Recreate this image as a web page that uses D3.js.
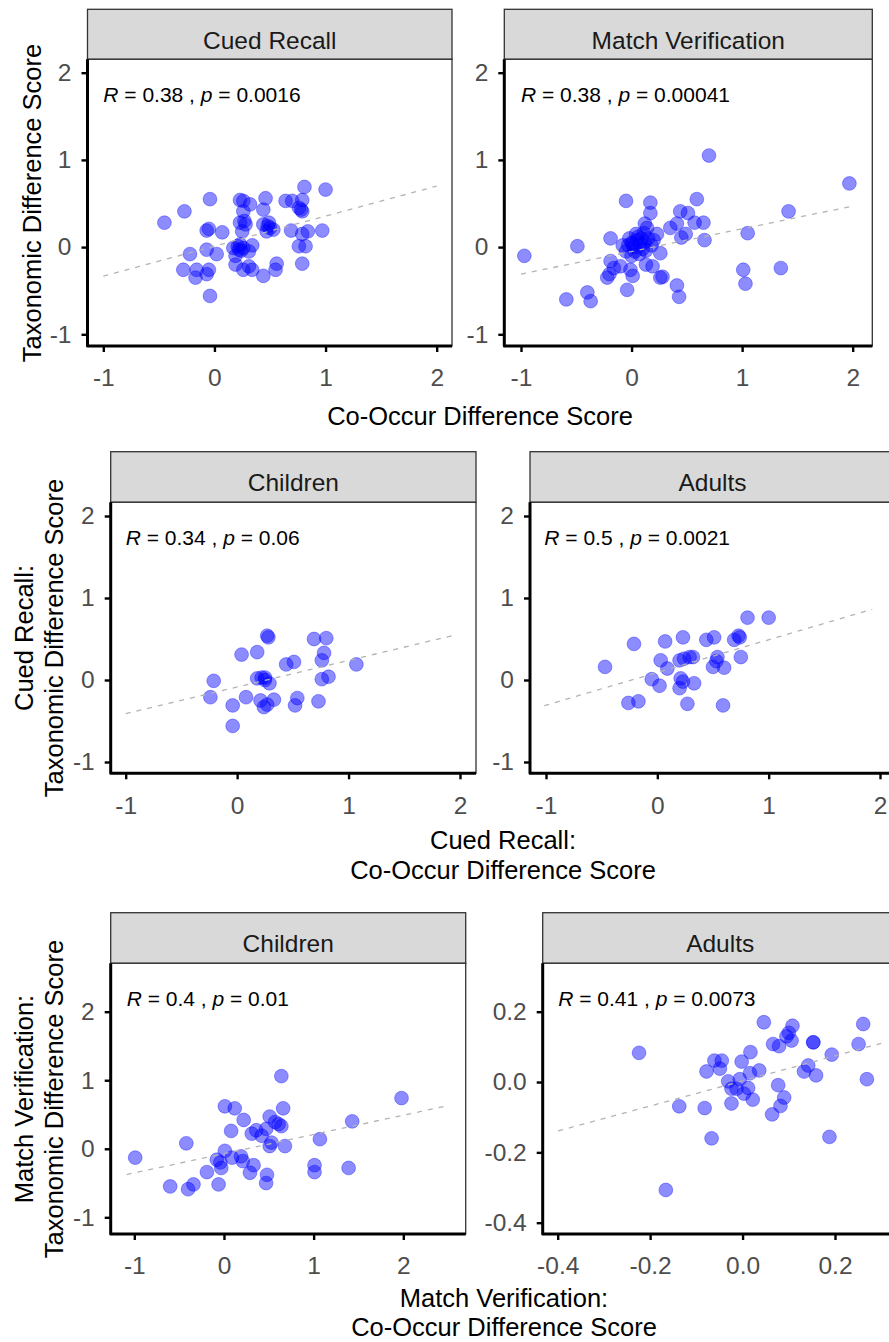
<!DOCTYPE html>
<html>
<head>
<meta charset="utf-8">
<script src="https://cdn.jsdelivr.net/npm/d3@7"></script>
<style>
  body { margin: 0; background: #fff; }
  svg { display: block; font-family: "Liberation Sans", Arial, sans-serif; }
</style>
</head>
<body>
<div id="chart"></div>
<script>
// ---- data ----
const stripLabels = ["Cued Recall", "Match Verification", "Children", "Adults", "Children", "Adults"];
const rValues = ["0.38", "0.38", "0.34", "0.5", "0.4", "0.41"];
const pValues = ["0.0016", "0.00041", "0.06", "0.0021", "0.01", "0.0073"];

const mainTicks = [-1, 0, 1, 2];
const mvAdultTicks = [-0.4, -0.2, 0.0, 0.2];

// [x, y] pairs: co-occur difference, taxonomic difference
const cuedRecall = [[-0.45,0.28],[-0.27,0.41],[-0.04,0.55],[-0.07,0.19],[-0.05,0.21],[0.07,0.17],[-0.22,-0.08],[-0.07,-0.03],
  [0.02,-0.08],[-0.28,-0.26],[-0.16,-0.26],[-0.17,-0.35],[-0.05,-0.26],[-0.07,-0.31],[-0.04,-0.56],[0.23,0.54],[0.26,0.53],
  [0.32,0.49],[0.26,0.41],[0.46,0.56],[0.44,0.43],[0.23,0.28],[0.28,0.26],[0.25,0.18],[0.44,0.26],[0.49,0.28],[0.47,0.18],
  [0.53,0.20],[0.50,0.22],[0.64,0.53],[0.70,0.53],[0.79,0.54],[0.81,0.69],[1.00,0.66],[0.76,0.45],[0.79,0.41],[0.69,0.19],
  [0.79,0.15],[0.84,0.18],[0.97,0.19],[0.76,0.01],[0.82,0.01],[0.79,-0.19],[0.17,-0.01],[0.22,-0.03],[0.26,-0.01],[0.23,0.03],
  [0.34,0.02],[0.19,-0.10],[0.19,-0.20],[0.26,-0.26],[0.31,-0.22],[0.34,-0.26],[0.44,-0.33],[0.56,-0.19],[0.55,-0.26],
  [0.31,-0.05],[0.21,0.01],[0.27,0.30],[0.48,0.24],[0.78,0.43],[0.24,-0.04]];

const matchVerification = [[-0.97,-0.10],[-0.49,0.01],[-0.59,-0.60],[-0.40,-0.52],[-0.37,-0.62],[-0.05,0.53],[-0.19,0.10],
  [-0.04,-0.49],[0.17,0.51],[0.17,0.39],[0.12,0.27],[0.14,0.22],[-0.19,-0.16],[-0.16,-0.24],[-0.10,-0.22],[-0.22,-0.35],
  [-0.20,-0.31],[-0.01,-0.26],[0.01,-0.33],[0.13,-0.20],[0.19,-0.22],[0.26,-0.35],[0.28,-0.34],[0.26,-0.07],[0.23,0.15],
  [0.35,0.22],[0.41,0.27],[0.44,0.41],[0.51,0.39],[0.59,0.55],[0.57,0.28],[0.65,0.28],[0.70,1.05],[0.45,0.11],[0.49,0.15],
  [0.66,0.08],[0.41,-0.44],[0.43,-0.57],[1.05,0.16],[1.01,-0.26],[1.03,-0.42],[1.35,-0.24],[1.42,0.41],[1.97,0.73],
  [0.00,0.05],[0.02,0.00],[0.05,0.08],[-0.03,0.02],[0.08,0.03],[0.10,-0.02],[0.03,-0.05],[0.06,0.12],[-0.05,-0.05],
  [0.12,0.06],[0.15,0.10],[0.00,-0.10],[0.04,0.15],[0.09,0.10],[-0.02,0.10],[0.18,0.02],[0.20,0.08],[0.07,-0.08],
  [0.13,-0.04],[0.01,0.04],[-0.08,0.02],[0.11,0.16]];

const crChildren = [[-0.21,-0.01],[-0.24,-0.21],[-0.04,-0.31],[-0.04,-0.56],[0.04,0.31],[0.08,-0.21],[0.18,0.34],[0.27,0.54],
  [0.28,0.52],[0.18,0.02],[0.22,0.03],[0.25,0.00],[0.29,-0.04],[0.21,-0.25],[0.24,-0.33],[0.27,-0.30],[0.33,-0.24],
  [0.44,0.19],[0.51,0.22],[0.54,-0.22],[0.52,-0.31],[0.69,0.50],[0.80,0.51],[0.78,0.33],[0.76,0.24],[0.76,0.01],
  [0.82,0.04],[0.73,-0.26],[1.07,0.19],[0.25,0.03]];

const crAdults = [[-0.47,0.16],[-0.21,0.44],[-0.26,-0.28],[-0.17,-0.26],[-0.05,0.01],[0.02,-0.07],[0.07,0.47],[0.03,0.24],
  [0.09,0.14],[0.23,0.52],[0.20,0.24],[0.24,0.26],[0.29,0.28],[0.32,0.28],[0.21,0.02],[0.23,-0.02],[0.20,-0.10],
  [0.33,-0.04],[0.27,-0.29],[0.44,0.49],[0.51,0.52],[0.54,0.28],[0.53,0.23],[0.50,0.16],[0.60,0.15],[0.59,-0.31],
  [0.69,0.49],[0.73,0.54],[0.74,0.52],[0.75,0.28],[0.81,0.76],[1.00,0.76]];

const mvChildren = [[-0.99,-0.13],[-0.42,0.08],[-0.60,-0.55],[-0.40,-0.59],[-0.34,-0.52],[-0.19,-0.34],[-0.06,-0.52],
  [0.01,0.62],[0.12,0.59],[0.22,0.42],[0.08,0.26],[0.01,-0.03],[-0.08,-0.16],[-0.04,-0.20],[-0.03,-0.28],[0.09,-0.13],
  [0.19,-0.11],[0.21,-0.18],[0.33,-0.24],[0.29,-0.35],[0.31,0.22],[0.36,0.27],[0.42,0.19],[0.47,0.29],[0.51,0.47],
  [0.48,-0.38],[0.47,-0.50],[0.53,0.09],[0.51,0.04],[0.57,0.39],[0.61,0.36],[0.64,0.33],[0.64,1.06],[0.66,0.59],
  [0.68,0.04],[1.01,-0.24],[1.01,-0.34],[1.07,0.14],[1.39,-0.28],[1.43,0.40],[1.98,0.74]];

const mvAdults = [[-0.224,0.083],[-0.166,-0.307],[-0.137,-0.069],[-0.082,-0.074],[-0.078,0.030],[-0.067,-0.160],
  [-0.061,0.061],[-0.045,0.061],[-0.049,0.038],[-0.031,0.002],[-0.024,-0.019],[-0.024,-0.061],[-0.013,-0.019],
  [-0.006,0.008],[-0.002,0.058],[0.003,-0.033],[0.012,-0.017],[0.016,0.025],[0.017,0.085],[0.022,-0.050],[0.036,0.033],
  [0.046,0.170],[0.066,0.108],[0.079,0.102],[0.077,-0.009],[0.090,-0.044],[0.082,-0.068],[0.064,-0.092],[0.095,0.130],
  [0.108,0.160],[0.106,0.118],[0.133,0.030],[0.142,0.047],[0.153,0.113],[0.159,0.019],[0.188,-0.156],[0.193,0.078],
  [0.251,0.108],[0.261,0.165],[0.269,0.008],[0.153,0.113],[0.100,0.140]];

// fitted line end points [x0, y0, x1, y1]
const fitLines = [[-1, -0.333, 2, 0.70], [-1, -0.31, 2, 0.47], [-1, -0.41, 1.93, 0.54],
  [-1.015, -0.313, 1.93, 0.862], [-1.085, -0.376, 2.48, 0.624], [-0.399, -0.139, 0.30, 0.110]];

// ---- layout ----
const width = 889, height = 1342;
const intFmt = d => String(d);
const decFmt = d => d.toFixed(1);

const panels = [
  { data: cuedRecall, l: 87.5, r: 452, t: 59.3, b: 346, st: 9.3,
    xr: [103.3, 436.7], yr: [334.3, 72.7], xt: mainTicks, yt: mainTicks, fmt: intFmt },
  { data: matchVerification, l: 504.3, r: 872.3, t: 59.3, b: 346, st: 9.3,
    xr: [521, 852.7], yr: [334.3, 72.7], xt: mainTicks, yt: mainTicks, fmt: intFmt },
  { data: crChildren, l: 110.7, r: 476, t: 502.3, b: 773.3, st: 451.7,
    xr: [125.7, 460], yr: [762, 516], xt: mainTicks, yt: mainTicks, fmt: intFmt },
  { data: crAdults, l: 530, r: 895, t: 502.3, b: 773.3, st: 451.7,
    xr: [546, 880], yr: [762, 516], xt: mainTicks, yt: mainTicks, fmt: intFmt },
  { data: mvChildren, l: 110.7, r: 465.7, t: 963.3, b: 1234, st: 912.7,
    xr: [134.3, 403.3], yr: [1217.3, 1011.7], xt: mainTicks, yt: mainTicks, fmt: intFmt },
  { data: mvAdults, l: 542.7, r: 897.7, t: 963.3, b: 1234, st: 912.7,
    xr: [557.7, 835], yr: [1222.7, 1011.7], xt: mvAdultTicks, yt: mvAdultTicks, fmt: decFmt }
];

const svg = d3.select("#chart")
  .append("svg")
  .attr("width", width)
  .attr("height", height);

panels.forEach((p, i) => {
  const x = d3.scaleLinear().domain([p.xt[0], p.xt[p.xt.length - 1]]).range(p.xr);
  const y = d3.scaleLinear().domain([p.yt[0], p.yt[p.yt.length - 1]]).range(p.yr);
  const g = svg.append("g");

  // strip
  g.append("rect")
    .attr("x", p.l).attr("y", p.st)
    .attr("width", p.r - p.l).attr("height", p.t - p.st)
    .attr("fill", "#D9D9D9")
    .attr("stroke", "#333").attr("stroke-width", 1.3);
  g.append("text")
    .attr("x", (p.l + p.r) / 2).attr("y", p.st + 39.5)
    .attr("text-anchor", "middle")
    .attr("font-size", 24.5)
    .attr("fill", "#1A1A1A")
    .text(stripLabels[i]);

  // panel
  g.append("rect")
    .attr("x", p.l).attr("y", p.t)
    .attr("width", p.r - p.l).attr("height", p.b - p.t)
    .attr("fill", "#fff")
    .attr("stroke", "#333").attr("stroke-width", 1.3);

  g.append("g").selectAll("circle")
    .data(p.data)
    .join("circle")
    .attr("cx", d => x(d[0]))
    .attr("cy", d => y(d[1]))
    .attr("r", 6.9)
    .attr("fill", "rgba(0,0,255,0.45)")
    .attr("stroke", "rgba(0,0,255,0.35)")
    .attr("stroke-width", 1);

  const f = fitLines[i];
  g.append("line")
    .attr("x1", x(f[0])).attr("y1", y(f[1]))
    .attr("x2", x(f[2])).attr("y2", y(f[3]))
    .attr("stroke", "#B3B3B3")
    .attr("stroke-width", 1.3)
    .attr("stroke-dasharray", "5,6");

  // correlation label
  const lab = g.append("text")
    .attr("x", x(f[0])).attr("y", p.t + 43)
    .attr("font-size", 21)
    .attr("fill", "#000")
    .style("white-space", "pre");
  lab.append("tspan").attr("font-style", "italic").text("R");
  lab.append("tspan").text(" = " + rValues[i] + " , ");
  lab.append("tspan").attr("font-style", "italic").text("p");
  lab.append("tspan").text(" = " + pValues[i]);

  // axes
  const xAxis = g.append("g")
    .attr("transform", `translate(0, ${p.b})`)
    .call(d3.axisBottom(x).tickValues(p.xt).tickFormat(p.fmt).tickSize(6).tickPadding(17));
  const yAxis = g.append("g")
    .attr("transform", `translate(${p.l}, 0)`)
    .call(d3.axisLeft(y).tickValues(p.yt).tickFormat(p.fmt).tickSize(6).tickPadding(10));
  [xAxis, yAxis].forEach(a => {
    a.attr("font-family", null).attr("font-size", null);
    a.select(".domain").remove();
    a.selectAll(".tick line").attr("stroke", "#000").attr("stroke-width", 2.4);
    a.selectAll(".tick text").attr("font-size", 24.5).attr("fill", "#4D4D4D");
  });

  g.append("path")
    .attr("d", `M${p.l},${p.t} L${p.l},${p.b} L${p.r},${p.b}`)
    .attr("fill", "none")
    .attr("stroke", "#000")
    .attr("stroke-width", 3)
    .attr("stroke-linejoin", "round");
});

// ---- axis titles ----
const xTitles = [
  { lines: ["Co-Occur Difference Score"], cx: 480, base: [425] },
  { lines: ["Cued Recall:", "Co-Occur Difference Score"], cx: 503, base: [849, 879] },
  { lines: ["Match Verification:", "Co-Occur Difference Score"], cx: 504, base: [1307, 1336] }
];
const yTitles = [
  { lines: ["Taxonomic Difference Score"], cy: 203, base: [41] },
  { lines: ["Cued Recall:", "Taxonomic Difference Score"], cy: 638, base: [33, 63] },
  { lines: ["Match Verification:", "Taxonomic Difference Score"], cy: 1099, base: [33, 63] }
];

xTitles.forEach(t => {
  t.lines.forEach((s, j) => {
    svg.append("text")
      .attr("x", t.cx).attr("y", t.base[j])
      .attr("text-anchor", "middle")
      .attr("font-size", 25.5)
      .attr("fill", "#000")
      .text(s);
  });
});

yTitles.forEach(t => {
  t.lines.forEach((s, j) => {
    svg.append("text")
      .attr("transform", `translate(${t.base[j]}, ${t.cy}) rotate(-90)`)
      .attr("text-anchor", "middle")
      .attr("font-size", 25.5)
      .attr("fill", "#000")
      .text(s);
  });
});
</script>
</body>
</html>
